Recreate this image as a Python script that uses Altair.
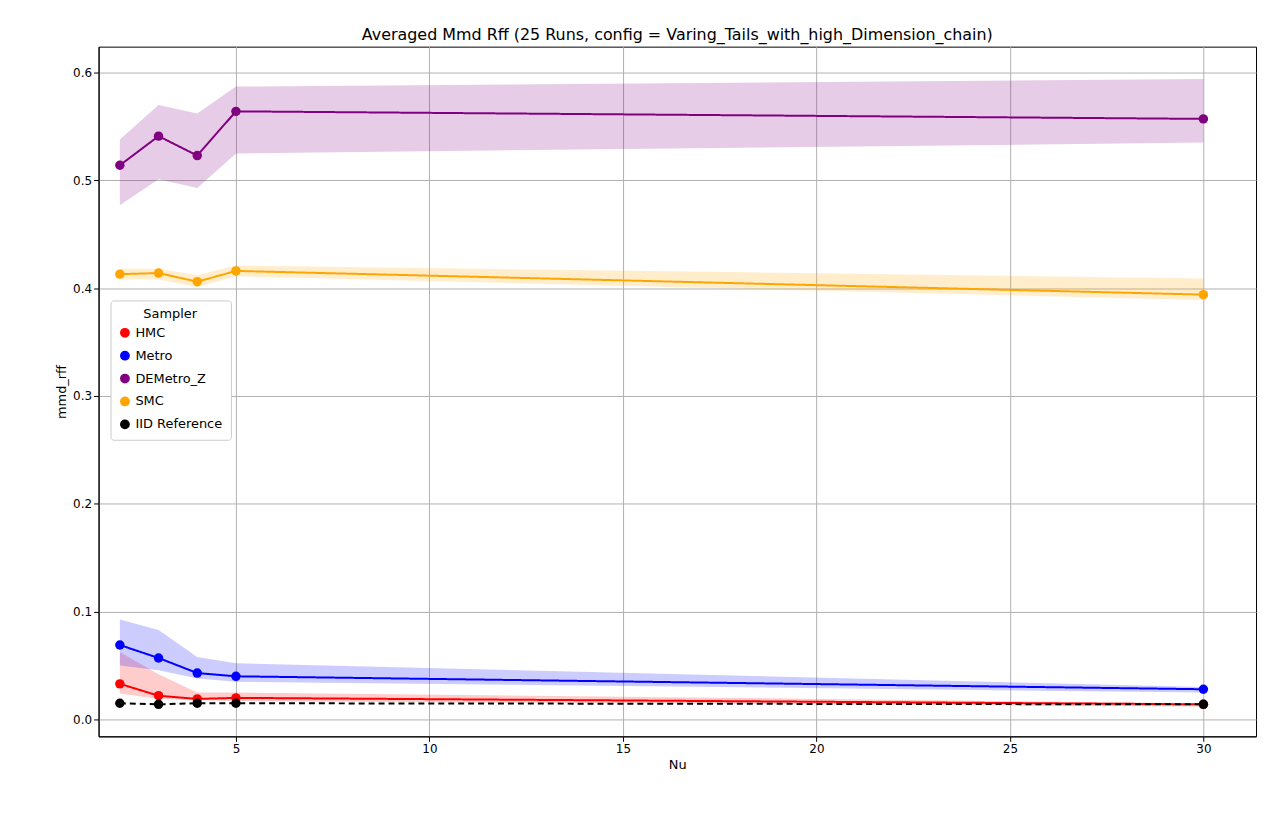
import pandas as pd
import altair as alt

nu = [2, 3, 4, 5, 30]
samplers = ["HMC", "Metro", "DEMetro_Z", "SMC", "IID Reference"]
colors = ["red", "blue", "purple", "orange", "black"]

hmc_mean = [0.033, 0.022, 0.019, 0.020, 0.014]
hmc_lo = [0.024, 0.019, 0.018, 0.017, 0.012]
hmc_hi = [0.0625, 0.042, 0.025, 0.025, 0.015]

metro_mean = [0.069, 0.057, 0.043, 0.040, 0.028]
metro_lo = [0.050, 0.0455, 0.038, 0.035, 0.025]
metro_hi = [0.0926, 0.083, 0.058, 0.052, 0.030]

dem_mean = [0.514, 0.541, 0.523, 0.564, 0.557]
dem_lo = [0.477, 0.501, 0.493, 0.525, 0.535]
dem_hi = [0.538, 0.570, 0.562, 0.587, 0.594]

smc_mean = [0.413, 0.414, 0.406, 0.416, 0.394]
smc_lo = [0.408, 0.408, 0.401, 0.411, 0.389]
smc_hi = [0.418, 0.418, 0.412, 0.421, 0.409]

iid_mean = [0.015, 0.014, 0.015, 0.015, 0.014]

rows = []
for name, m, lo, hi in [("HMC", hmc_mean, hmc_lo, hmc_hi),
                        ("Metro", metro_mean, metro_lo, metro_hi),
                        ("DEMetro_Z", dem_mean, dem_lo, dem_hi),
                        ("SMC", smc_mean, smc_lo, smc_hi),
                        ("IID Reference", iid_mean, None, None)]:
    for i, x in enumerate(nu):
        rows.append({"nu": x, "sampler": name, "mean": m[i],
                     "lo": lo[i] if lo else None, "hi": hi[i] if hi else None})
df = pd.DataFrame(rows)

color = alt.Color("sampler:N", scale=alt.Scale(domain=samplers, range=colors),
                  legend=alt.Legend(title="Sampler", orient="none", legendX=12, legendY=255,
                                    symbolType="circle", symbolSize=70, labelFontSize=13,
                                    titleFontSize=13, titleFontWeight="normal",
                                    fillColor="white", strokeColor="#cccccc", padding=8,
                                    cornerRadius=3, rowPadding=8, titleAnchor="middle",
                                    symbolOpacity=1))
x = alt.X("nu:Q", title="Nu", scale=alt.Scale(domain=[1.45, 31.36], nice=False, zero=False),
          axis=alt.Axis(values=[5, 10, 15, 20, 25, 30], grid=True))
y = alt.Y("mean:Q", title="mmd_rff", scale=alt.Scale(domain=[-0.0157, 0.624], nice=False),
          axis=alt.Axis(values=[0.0, 0.1, 0.2, 0.3, 0.4, 0.5, 0.6], format=".1f", grid=True))

base = alt.Chart(df)
band = base.transform_filter("datum.lo != null").mark_area(opacity=0.2).encode(
    x=x, y=alt.Y("lo:Q"), y2="hi:Q", color=color)
lines = base.mark_line(strokeWidth=2).encode(
    x=x, y=y, color=color,
    strokeDash=alt.condition("datum.sampler == 'IID Reference'", alt.value([6, 4]), alt.value([1, 0])))
points = base.mark_circle(size=90, opacity=1).encode(x=x, y=y, color=color)

chart = alt.layer(band, lines, points).properties(
    width=1163, height=693,
    title=alt.TitleParams("Averaged Mmd Rff (25 Runs, config = Varing_Tails_with_high_Dimension_chain)",
                          fontSize=16, fontWeight="normal"),
    padding={"left": 47, "top": 17, "right": 5, "bottom": 5}
).configure(
    font="DejaVu Sans",
    view=alt.ViewConfig(stroke="black", strokeWidth=1),
    axis=alt.AxisConfig(labelFontSize=12, titleFontSize=13, titleFontWeight="normal",
                        gridColor="#b0b0b0", domainColor="black", tickColor="black",
                        labelColor="black", titleColor="black"),
)

chart.save("out.html", embed_options={"renderer": "svg", "actions": False})
